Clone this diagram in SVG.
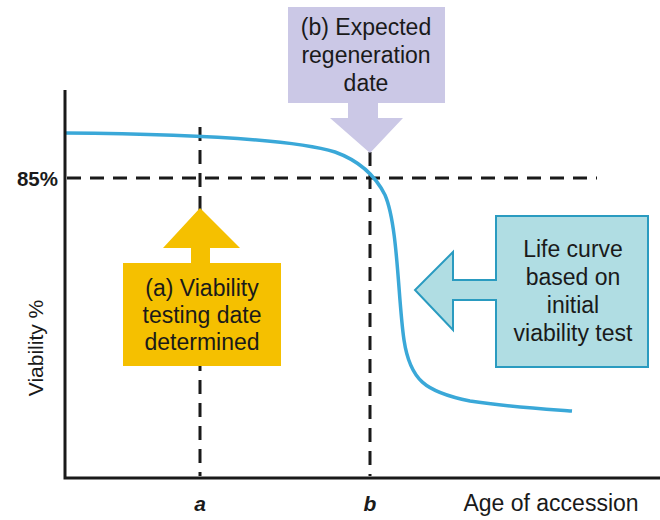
<svg xmlns="http://www.w3.org/2000/svg" width="660" height="520" viewBox="0 0 660 520">
<style>
.lbl{font-family:"Liberation Sans",Arial,sans-serif;font-size:23px;fill:#1a1a1a;text-anchor:middle}
.axis{stroke:#1a1a1a;stroke-width:3;fill:none}
.dash{stroke:#1a1a1a;stroke-width:3;stroke-dasharray:14 9;fill:none}
</style>
<rect width="660" height="520" fill="#ffffff"/>
<g id="connectors">
<line class="dash" x1="67" y1="178" x2="597" y2="178"/>
<line class="dash" x1="200" y1="127" x2="200" y2="476"/>
<line class="dash" x1="370" y1="152" x2="370" y2="476"/>
<path d="M65,133 C180,134 290,138 335,152 C360,161 375,175 385,195 C398,225 398,300 404,340 C410,380 425,392 470,401 C510,407 545,409 572,411" fill="none" stroke="#3aa8d8" stroke-width="3.5"/>
</g>
<g id="axes">
<polyline class="axis" points="65,90 65,478 660,478"/>
<text x="58" y="186" class="lbl" style="font-weight:bold;font-size:20.5px;text-anchor:end">85%</text>
<text transform="translate(43,348) rotate(-90)" class="lbl" style="font-size:21px">Viability %</text>
<text x="200" y="511" class="lbl" style="font-weight:bold;font-style:italic;font-size:21px">a</text>
<text x="370" y="511" class="lbl" style="font-weight:bold;font-style:italic;font-size:21px">b</text>
<text x="551" y="511" class="lbl">Age of accession</text>
</g>
<g id="node-b">
<path d="M288,7 H445 V103 H378 V118 H403 L370,153 L330,118 H348 V103 H288 Z" fill="#cbc8e6"/>
<text class="lbl" x="366" y="35">(b) Expected</text>
<text class="lbl" x="366" y="63">regeneration</text>
<text class="lbl" x="366" y="91">date</text>
</g>
<g id="node-a">
<path d="M123,263 H191 V248 H163 L200,208 L240,248 H210 V263 H281 V366 H123 Z" fill="#f5c000"/>
<text class="lbl" x="202" y="296">(a) Viability</text>
<text class="lbl" x="202" y="323">testing date</text>
<text class="lbl" x="202" y="350">determined</text>
</g>
<g id="node-life">
<path d="M496,216 H648 V367 H496 V300 H453 V330 L415,290 L453,252 V280 H496 Z" fill="#b0dde3" stroke="#2a9bc0" stroke-width="2"/>
<text class="lbl" x="573" y="257">Life curve</text>
<text class="lbl" x="573" y="285">based on</text>
<text class="lbl" x="573" y="313">initial</text>
<text class="lbl" x="573" y="341">viability test</text>
</g>
</svg>
